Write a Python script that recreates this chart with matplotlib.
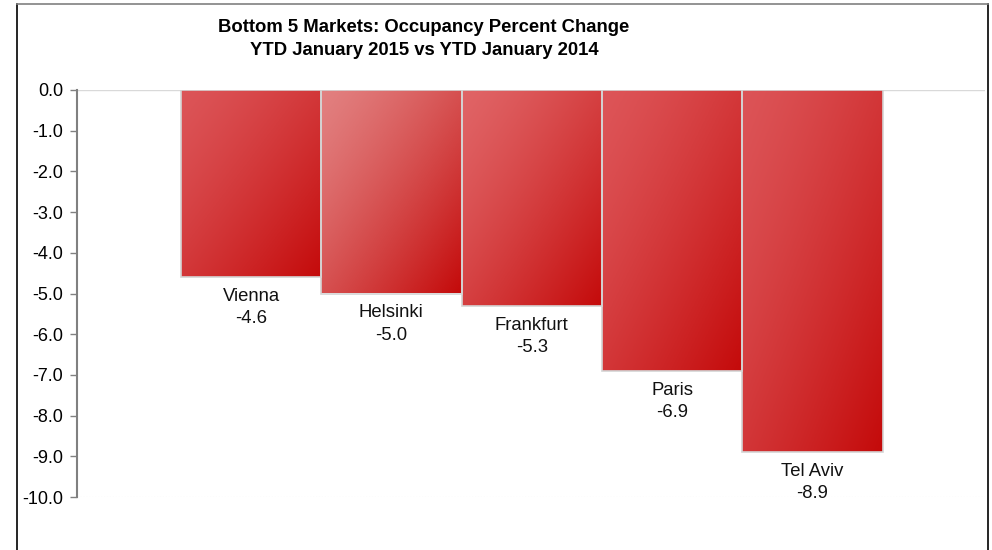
import numpy as np
import matplotlib.pyplot as plt
from matplotlib.lines import Line2D
from matplotlib.colors import to_rgb

## Chart data
markets = ['Vienna', 'Helsinki', 'Frankfurt', 'Paris', 'Tel Aviv']
change = [-4.6, -5.0, -5.3, -6.9, -8.9]  # Occupancy % change
yticks = np.arange(0, -10.5, -1.0)

## Gradient colours per bar (top-left light -> bottom-right dark)
light = ['#dc5558', '#e28080', '#e06466', '#dd5558', '#dc5457']
dark = '#c40a0a'

plt.rcParams['font.family'] = ['Liberation Sans', 'DejaVu Sans']

fig = plt.figure(figsize=(9.92, 5.5), dpi=100)
ax = fig.add_axes([77/992, 1-497/550, (985-77)/992, (497-90)/550])

x = np.arange(len(markets))
bars = ax.bar(x, change, width=1.0, color='none', edgecolor='#d4d4d4', linewidth=1.2, zorder=3)

# fill each bar with a diagonal gradient clipped to the bar shape
u, v = np.meshgrid(np.linspace(0, 1, 100), np.linspace(0, 1, 100))
t = ((u + v) / 2) ** 1.3
for b, c0 in zip(bars, light):
    a = np.array(to_rgb(c0))
    d = np.array(to_rgb(dark))
    img = a[None, None, :] * (1 - t[..., None]) + d[None, None, :] * t[..., None]
    x0, w = b.get_x(), b.get_width()
    y1 = b.get_height()
    im = ax.imshow(img, extent=[x0, x0 + w, y1, 0], origin='upper', aspect='auto', zorder=2)
    im.set_clip_path(b)

# data labels under each bar
for xi, name, val in zip(x, markets, change):
    ax.text(xi, val - 0.27, name + '\n' + '%.1f' % val, ha='center', va='top',
            fontsize=13.3, linespacing=1.4, color='#111111')

ax.set_xlim(-1.24, 5.23)
ax.set_ylim(-10, 0)
ax.set_yticks(yticks)
ax.set_yticklabels(['%.1f' % v for v in yticks], fontsize=13)
ax.tick_params(axis='y', direction='out', length=5, width=1, color='#808080', pad=5)
ax.set_xticks([])
for s in ['top', 'right', 'bottom']:
    ax.spines[s].set_visible(False)
ax.spines['left'].set_color('#808080')
ax.spines['left'].set_linewidth(1.5)
ax.axhline(0, color='#d9d9d9', lw=1, zorder=1)
ax.axhline(-10, color='#d9d9d9', lw=0.8, ls=':', zorder=1)

fig.text(424/992, 1-39/550, 'Bottom 5 Markets: Occupancy Percent Change\nYTD January 2015 vs YTD January 2014',
         ha='center', va='center', fontsize=13.3, fontweight='bold', linespacing=1.45)

# outer frame (bottom edge is cut off in the original)
fig.add_artist(Line2D([17/992, 17/992], [0, 1-4/550], color='black', lw=1.2))
fig.add_artist(Line2D([988/992, 988/992], [0, 1-4/550], color='black', lw=1.2))
fig.add_artist(Line2D([17/992, 988/992], [1-4/550, 1-4/550], color='#808080', lw=1.2))

fig.savefig('out.png', dpi=100)
